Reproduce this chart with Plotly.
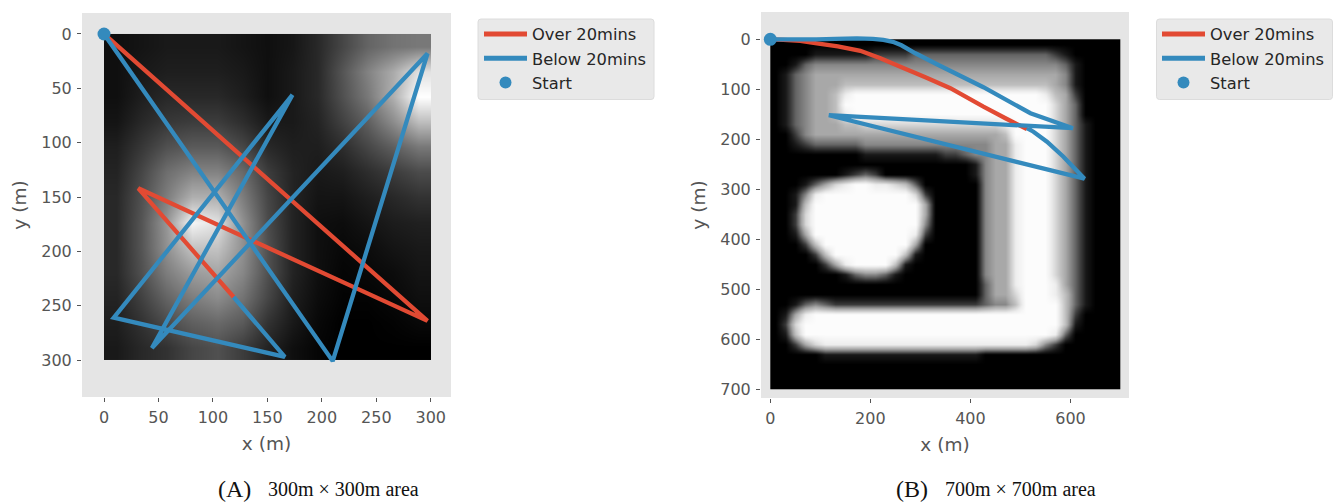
import plotly.graph_objects as go

W, H = 1333, 502

# ---- Panel A data (metres) ----
A_OVER_X = [0, 297, 31.5, 119]
A_OVER_Y = [0, 264, 142, 242]
A_BELOW_X = [0, 210, 297, 44, 173, 9, 166, 119]
A_BELOW_Y = [0, 301, 18, 289, 56, 261, 297, 242]
A_TICKS_X = [0, 50, 100, 150, 200, 250, 300]
A_TICKS_Y = [0, 50, 100, 150, 200, 250, 300]
# brightness, 13 x 13 cells over 300 m
A_HEAT = [
    [15, 20, 25, 25, 25, 20, 15, 22, 40, 70, 100, 115, 120],
    [15, 25, 30, 30, 30, 25, 15, 25, 40, 85, 130, 170, 225],
    [15, 30, 40, 40, 40, 30, 15, 25, 40, 80, 120, 175, 255],
    [20, 40, 55, 60, 60, 45, 25, 25, 35, 65, 95, 140, 190],
    [30, 55, 80, 90, 90, 70, 40, 30, 30, 45, 70, 95, 120],
    [35, 70, 110, 130, 130, 105, 60, 35, 25, 30, 45, 60, 75],
    [40, 80, 125, 175, 175, 125, 70, 35, 20, 20, 30, 40, 50],
    [40, 85, 150, 245, 225, 145, 75, 35, 15, 12, 20, 28, 32],
    [40, 85, 145, 195, 195, 145, 80, 35, 15, 8, 12, 20, 25],
    [40, 80, 125, 155, 165, 135, 80, 35, 15, 5, 8, 12, 20],
    [35, 65, 100, 125, 140, 115, 70, 30, 12, 3, 3, 8, 15],
    [30, 50, 75, 95, 105, 90, 50, 25, 8, 0, 0, 3, 8],
    [25, 40, 50, 70, 80, 60, 35, 15, 5, 0, 0, 0, 0],
]

# ---- Panel B data (metres) ----
B_OVER_X = [0, 26, 60, 93, 135, 180, 220, 260, 310, 360, 426, 470, 513]
B_OVER_Y = [0, 1, 3, 8, 14, 23, 38, 55, 76, 98, 135, 158, 180]
B_BELOW_X = [0, 93, 130, 173, 205, 226, 245, 262, 290, 333, 426, 520, 605, 117, 628, 605, 586, 553, 526, 513]
B_BELOW_Y = [0, 0, -1, -2, -1, 1, 5, 12, 28, 50, 96, 148, 178, 152, 279, 255, 235, 205, 185, 178]
B_TICKS_X = [0, 200, 400, 600]
B_TICKS_Y = [0, 100, 200, 300, 400, 500, 600, 700]
# brightness levels 0-9, 20 m cells, as (level, count) runs per row
B_TAIL = [(4, 1), (5, 2), (8, 1), (9, 3), (7, 1), (5, 1), (3, 1), (1, 1)]
B_HEAT_RUNS = [
    [],
    [(0, 4), (1, 6), (2, 4), (3, 14), (2, 1), (1, 1)],
    [(0, 2), (1, 1), (3, 1), (4, 25), (3, 1), (1, 1)],
    [(0, 1), (1, 1), (3, 1), (4, 1), (5, 25), (4, 1), (1, 1)],
    [(0, 1), (1, 1), (3, 1), (4, 1), (5, 3), (6, 21), (5, 1), (4, 1), (1, 1)],
    [(0, 1), (1, 1), (3, 1), (4, 1), (5, 2), (6, 1), (8, 1), (9, 19), (8, 1), (6, 1), (5, 1), (2, 1)],
    [(0, 1), (1, 1), (3, 1), (4, 1), (5, 2), (6, 1), (9, 21), (7, 1), (5, 1), (3, 1)],
    [(0, 1), (1, 1), (3, 1), (4, 1), (5, 2), (6, 1), (8, 1), (9, 20), (7, 1), (5, 1), (3, 1)],
    [(0, 1), (1, 1), (3, 1), (4, 1), (5, 3), (6, 2), (7, 14), (8, 1), (9, 4), (7, 1), (5, 1), (3, 1), (1, 1)],
    [(0, 2), (2, 1), (4, 1), (5, 19), (6, 1), (9, 4), (7, 1), (5, 1), (3, 1), (1, 1)],
    [(0, 2), (1, 1), (2, 1), (3, 5), (4, 12)] + B_TAIL,
    [(0, 9), (1, 8), (2, 2), (3, 1), (4, 1)] + B_TAIL,
    [(0, 20), (1, 1)] + B_TAIL,
    [(0, 7), (1, 1), (2, 1), (3, 1), (2, 1), (0, 9), (1, 1)] + B_TAIL,
    [(0, 3), (1, 1), (3, 1), (5, 1), (7, 1), (8, 1), (9, 2), (8, 2), (7, 1), (6, 1), (3, 1), (0, 6)] + B_TAIL,
    [(0, 2), (1, 1), (4, 1), (8, 1), (9, 9), (7, 1), (2, 1), (0, 5)] + B_TAIL,
    [(0, 2), (1, 1), (6, 1), (9, 11), (5, 1), (0, 5)] + B_TAIL,
    [(0, 2), (2, 1), (7, 1), (9, 11), (5, 1), (0, 5)] + B_TAIL,
    [(0, 2), (2, 1), (7, 1), (9, 11), (4, 1), (0, 5)] + B_TAIL,
    [(0, 2), (1, 1), (5, 1), (9, 10), (8, 1), (2, 1), (0, 5)] + B_TAIL,
    [(0, 3), (2, 1), (6, 1), (9, 9), (5, 1), (0, 6)] + B_TAIL,
    [(0, 4), (2, 1), (6, 1), (9, 7), (6, 1), (1, 1), (0, 6)] + B_TAIL,
    [(0, 5), (2, 1), (5, 1), (8, 1), (9, 4), (6, 1), (1, 1), (0, 7)] + B_TAIL,
    [(0, 7), (1, 1), (3, 1), (4, 2), (3, 1), (1, 1), (0, 8)] + B_TAIL,
    [(0, 21), (3, 1), (5, 2), (8, 1), (9, 3), (8, 1), (5, 1), (3, 1), (1, 1)],
    [(0, 21), (3, 1), (5, 2), (7, 1), (9, 3), (8, 1), (6, 1), (3, 1), (1, 1)],
    [(0, 2), (1, 1), (3, 1), (4, 1), (3, 1), (2, 15), (3, 1), (4, 2), (6, 1), (9, 4), (6, 1), (3, 1), (1, 1)],
    [(0, 1), (1, 1), (5, 1), (8, 1), (9, 25), (6, 1), (2, 1)],
    [(0, 1), (2, 1), (7, 1), (9, 26), (6, 1), (1, 1)],
    [(0, 1), (1, 1), (6, 1), (9, 25), (8, 1), (3, 1)],
    [(0, 2), (2, 1), (5, 1), (7, 1), (8, 21), (7, 1), (4, 1), (2, 1)],
    [(0, 5), (1, 16)],
    [],
    [],
    [],
]
B_LEVELS = [0, 25, 60, 100, 135, 168, 190, 215, 238, 252]

RED = "#E24A33"
BLUE = "#348ABD"
TXT = "#555555"
PANEL = "#E5E5E5"


def gray(v):
    v = int(v)
    return f"rgb({v},{v},{v})"


def expand(runs):
    row = [lev for lev, n in runs for _ in range(n)]
    return (row + [0] * 35)[:35]


a_scale = [[0, "rgb(0,0,0)"], [1, "rgb(255,255,255)"]]
b_scale = [[i / 9, gray(v)] for i, v in enumerate(B_LEVELS)]
b_heat = [expand(r) for r in B_HEAT_RUNS]

fig = go.Figure()

fig.add_trace(go.Heatmap(z=A_HEAT, x0=300 / 26, dx=300 / 13, y0=300 / 26, dy=300 / 13,
                         zmin=0, zmax=255, colorscale=a_scale, showscale=False,
                         zsmooth="best", hoverinfo="skip", xaxis="x", yaxis="y"))
fig.add_trace(go.Heatmap(z=b_heat, x0=10, dx=20, y0=10, dy=20,
                         zmin=0, zmax=9, colorscale=b_scale, showscale=False,
                         zsmooth="best", hoverinfo="skip", xaxis="x2", yaxis="y2"))


def paths(ox, oy, bx, by, xa, ya, leg):
    line = dict(width=4.3, simplify=False)
    fig.add_trace(go.Scatter(x=ox, y=oy, mode="lines", name="Over 20mins",
                             line=dict(color=RED, **line), xaxis=xa, yaxis=ya, legend=leg))
    fig.add_trace(go.Scatter(x=bx, y=by, mode="lines", name="Below 20mins",
                             line=dict(color=BLUE, **line), xaxis=xa, yaxis=ya, legend=leg))
    fig.add_trace(go.Scatter(x=ox[:1], y=oy[:1], mode="markers", name="Start",
                             marker=dict(color=BLUE, size=13), xaxis=xa, yaxis=ya,
                             legend=leg, cliponaxis=False))


paths(A_OVER_X, A_OVER_Y, A_BELOW_X, A_BELOW_Y, "x", "y", "legend")
paths(B_OVER_X, B_OVER_Y, B_BELOW_X, B_BELOW_Y, "x2", "y2", "legend2")


def ax(rng, dom, ticks, title, standoff, **kw):
    return dict(range=rng, domain=dom, tickmode="array", tickvals=ticks,
                ticktext=[str(t) for t in ticks], showgrid=False, zeroline=False,
                showline=False, ticks="outside", ticklen=4, tickwidth=1, tickcolor=TXT,
                tickfont=dict(family="DejaVu Sans", size=16, color=TXT),
                ticklabelstandoff=2,
                title=dict(text=title, standoff=standoff,
                           font=dict(family="DejaVu Sans", size=18.5, color=TXT)),
                automargin=False, **kw)


legend_style = dict(xanchor="left", yanchor="top", bgcolor="rgba(0,0,0,0)",
                    borderwidth=0, itemwidth=43,
                    font=dict(family="DejaVu Sans", size=16.3, color="#262626"),
                    itemsizing="constant", itemclick=False, itemdoubleclick=False)


def legend_box(left, right, top, bottom, r=3):
    x0, x1, y0, y1 = left / W, right / W, 1 - top / H, 1 - bottom / H
    rx, ry = r / W, r / H
    path = (f"M{x0 + rx},{y0} L{x1 - rx},{y0} Q{x1},{y0} {x1},{y0 - ry} "
            f"L{x1},{y1 + ry} Q{x1},{y1} {x1 - rx},{y1} L{x0 + rx},{y1} "
            f"Q{x0},{y1} {x0},{y1 + ry} L{x0},{y0 - ry} Q{x0},{y0} {x0 + rx},{y0} Z")
    return dict(type="path", xref="paper", yref="paper", path=path, layer="below",
                fillcolor="#E9E9E9", line=dict(color="#DCDCDC", width=1))


def cap(px, py, text, size):
    return dict(xref="paper", yref="paper", showarrow=False, xanchor="left", yanchor="middle",
                x=px / W, y=1 - py / H, text=text, xshift=-2,
                font=dict(family="Liberation Serif", color="#111111", size=size))


fig.update_layout(
    width=W, height=H, margin=dict(l=0, r=0, t=0, b=0),
    paper_bgcolor="white", plot_bgcolor=PANEL, showlegend=True,
    xaxis=ax([-20.2, 318.6], [82 / W, 451 / W], A_TICKS_X, "x (m)", 10, anchor="y"),
    yaxis=ax([334, -19.3], [1 - 397 / H, 1 - 13 / H], A_TICKS_Y, "y (m)", 9, anchor="x"),
    xaxis2=ax([-18.6, 717], [761 / W, 1129 / W], B_TICKS_X, "x (m)", 10, anchor="y2"),
    yaxis2=ax([718, -54.6], [1 - 398 / H, 1 - 12 / H], B_TICKS_Y, "y (m)", 9, anchor="x2"),
    legend=dict(x=479 / W, y=1 - 17 / H, **legend_style),
    legend2=dict(x=1157 / W, y=1 - 17 / H, **legend_style),
    shapes=[legend_box(478, 654, 19, 99.5), legend_box(1156.5, 1332.5, 19, 99.5)],
    annotations=[
        cap(218, 489, "(A)", 24),
        cap(268, 489, "300m × 300m area", 20),
        cap(896, 489, "(B)", 24),
        cap(945, 489, "700m × 700m area", 20),
    ],
)

fig.write_html("out.html", config={"displayModeBar": False},
               post_script="document.body.style.margin='0';document.body.style.overflow='hidden';")
